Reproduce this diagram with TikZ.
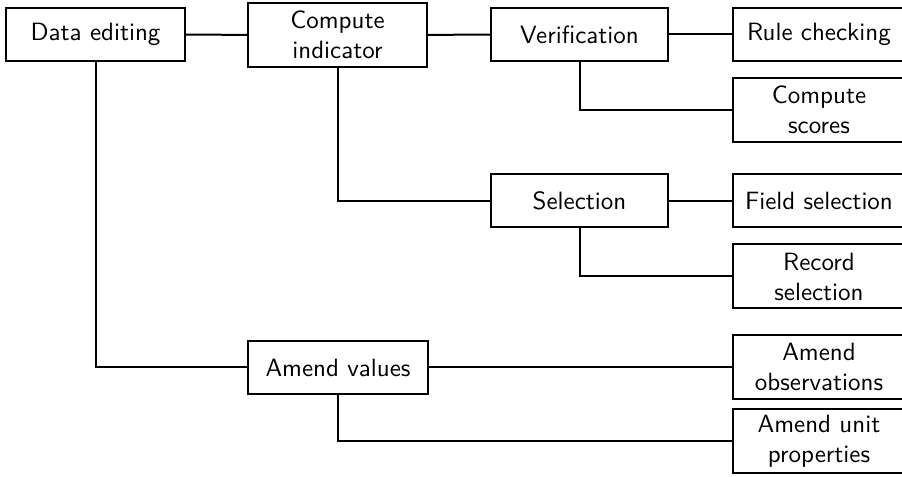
\documentclass[tikz,border=0pt]{standalone}
\begin{document}
\begin{tikzpicture}[x=0.4pt, y=-0.4pt,
        box/.style={draw, black, line width=0.8pt, align=center, inner sep=0pt,
                    minimum width=71.6pt, minimum height=21.2pt,
                    font=\sffamily\fontsize{10}{12}\selectfont},
        tall/.style={minimum height=25.6pt},
        leaf/.style={minimum width=68.8pt},
        link/.style={black, line width=0.8pt}]
        \useasboundingbox (0,0) rectangle (902,477);

        % --- LEVEL 0 ---
        \node[box] (edit) at (95.5, 34.5) {Data editing};

        % --- LEVEL 1 ---
        \node[box, tall] (indic) at (337.5, 35) {Compute\\indicator};
        \node[box] (amend) at (338, 367.5) {Amend values};

        % --- LEVEL 2 ---
        \node[box, minimum width=70.8pt] (verif) at (579.5, 34.5) {Verification};
        \node[box, minimum width=70.8pt] (selec) at (579.5, 201) {Selection};

        % --- LEVEL 3 ---
        \node[box, leaf] (rule) at (819, 34.5) {Rule checking};
        \node[box, leaf, tall] (score) at (819, 110) {Compute\\scores};
        \node[box, leaf] (field) at (819, 201) {Field selection};
        \node[box, leaf, tall] (record) at (819, 276.5) {Record\\selection};
        \node[box, leaf, tall] (obs) at (819, 367) {Amend\\observations};
        \node[box, leaf, tall] (unit) at (819, 441.5) {Amend unit\\properties};

        % Connectors
        \draw[link] (edit) -- (indic);
        \draw[link] (indic) -- (verif);
        \draw[link] (verif) -- (rule);
        \draw[link] (verif.south) |- (score.west);
        \draw[link] (indic.south) |- (selec.west);
        \draw[link] (selec) -- (field);
        \draw[link] (selec.south) |- (record.west);
        \draw[link] (edit.south) |- (amend.west);
        \draw[link] (amend.east) -- (amend.east -| obs.west);
        \draw[link] (amend.south) |- (unit.west);
    \end{tikzpicture}
\end{document}
